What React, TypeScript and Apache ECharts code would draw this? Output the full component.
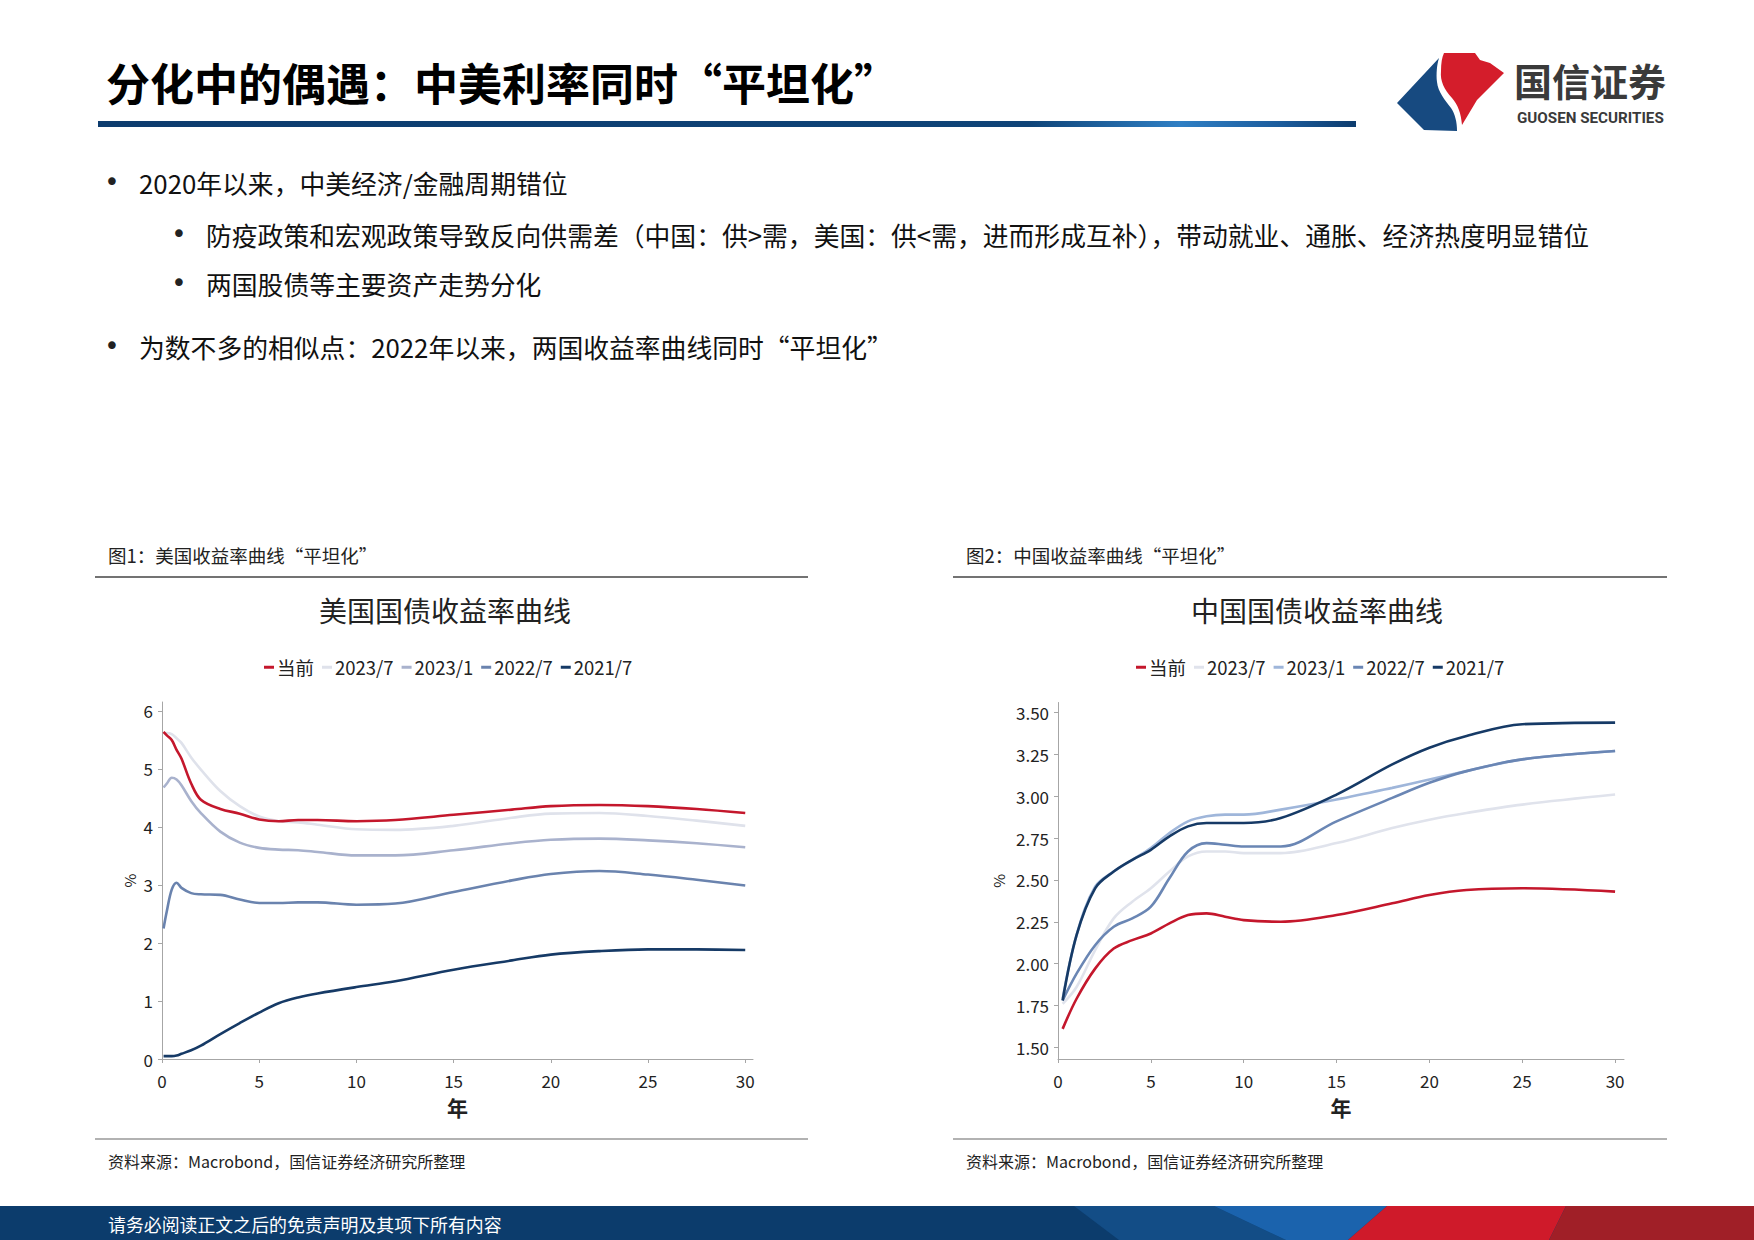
import React, { useEffect, useRef } from "react";
import * as echarts from "echarts";

// ---------- data ----------
const seriesNames = ["当前", "2023/7", "2023/1", "2022/7", "2021/7"];

// US Treasury yield curve (maturity in years, yield in %)
const usTenors = [0.08, 0.25, 0.5, 0.75, 1, 1.5, 2, 3, 4, 5, 6, 7, 8, 10, 12, 15, 18, 20, 22.5, 25, 27.5, 30];
const usCurrent = [5.64, 5.58, 5.5, 5.33, 5.18, 4.75, 4.47, 4.31, 4.23, 4.13, 4.1, 4.12, 4.12, 4.1, 4.12, 4.21, 4.3, 4.36, 4.38, 4.36, 4.31, 4.24];
const us2023_7 = [5.6, 5.62, 5.6, 5.53, 5.45, 5.2, 4.99, 4.62, 4.36, 4.18, 4.1, 4.08, 4.04, 3.96, 3.95, 4.02, 4.16, 4.23, 4.24, 4.19, 4.11, 4.02];
const us2023_1 = [4.68, 4.75, 4.85, 4.82, 4.72, 4.45, 4.24, 3.92, 3.73, 3.64, 3.61, 3.6, 3.57, 3.51, 3.51, 3.6, 3.72, 3.78, 3.8, 3.77, 3.72, 3.65];
const us2022_7 = [2.25, 2.55, 2.92, 3.04, 2.95, 2.86, 2.84, 2.83, 2.75, 2.69, 2.69, 2.7, 2.7, 2.66, 2.68, 2.88, 3.08, 3.19, 3.24, 3.18, 3.09, 2.99];
const us2021_7 = [0.05, 0.05, 0.05, 0.06, 0.09, 0.15, 0.23, 0.43, 0.62, 0.8, 0.96, 1.06, 1.13, 1.24, 1.34, 1.54, 1.7, 1.8, 1.86, 1.89, 1.89, 1.88];

// China government bond yield curve
const cnTenors = [0.25, 1, 2, 3, 4, 5, 6, 7, 8, 9, 10, 12, 15, 18, 20, 22, 25, 30];
const cnCurrent = [1.61, 1.79, 1.97, 2.09, 2.14, 2.18, 2.24, 2.29, 2.3, 2.28, 2.26, 2.25, 2.29, 2.36, 2.41, 2.44, 2.45, 2.43];
const cn2023_7 = [1.76, 1.86, 2.08, 2.27, 2.37, 2.45, 2.55, 2.64, 2.67, 2.67, 2.66, 2.66, 2.72, 2.81, 2.86, 2.9, 2.95, 3.01];
const cn2023_1 = [1.79, 2.17, 2.46, 2.55, 2.62, 2.69, 2.78, 2.85, 2.88, 2.89, 2.89, 2.92, 2.98, 3.05, 3.1, 3.15, 3.22, 3.27];
const cn2022_7 = [1.78, 1.94, 2.11, 2.22, 2.27, 2.34, 2.51, 2.67, 2.72, 2.71, 2.7, 2.7, 2.85, 2.99, 3.08, 3.15, 3.22, 3.27];
const cn2021_7 = [1.78, 2.17, 2.45, 2.55, 2.62, 2.68, 2.76, 2.82, 2.84, 2.84, 2.84, 2.87, 3.01, 3.19, 3.29, 3.36, 3.43, 3.44];

const xTickValues = [0, 5, 10, 15, 20, 25, 30];
const usYTickValues = [0, 1, 2, 3, 4, 5, 6];
const cnYTickValues = [1.5, 1.75, 2.0, 2.25, 2.5, 2.75, 3.0, 3.25, 3.5];

const pageTitle = "分化中的偶遇：中美利率同时“平坦化”";
const bullets = [
  { level: 0, text: "2020年以来，中美经济/金融周期错位" },
  { level: 1, text: "防疫政策和宏观政策导致反向供需差（中国：供>需，美国：供<需，进而形成互补），带动就业、通胀、经济热度明显错位" },
  { level: 1, text: "两国股债等主要资产走势分化" },
  { level: 0, text: "为数不多的相似点：2022年以来，两国收益率曲线同时“平坦化”" },
];
const captions = ["图1：美国收益率曲线“平坦化”", "图2：中国收益率曲线“平坦化”"];
const chartTitles = ["美国国债收益率曲线", "中国国债收益率曲线"];
const sourceText = "资料来源：Macrobond，国信证券经济研究所整理";
const footerText = "请务必阅读正文之后的免责声明及其项下所有内容";

// ---------- styles ----------
const usColors = ["#c4172c", "#dfe2eb", "#a9b2cd", "#6a83ae", "#163a66"];
const cnColors = ["#c4172c", "#e0e3ec", "#9fb6da", "#6a86b4", "#163a66"];
const CJK = "'Noto Sans CJK SC', 'Noto Sans', sans-serif";
const NUM = "'Liberation Sans Narrow', 'Noto Sans CJK SC', sans-serif";

const LOGO_RED =
  "M1444,53 L1475,53 L1480,60 L1490,63 L1504,73 L1477,100 L1462,125 C1461,113 1458,105 1452,98 C1444,89 1440,81 1441,71 C1441,63 1442,57 1444,53 Z";
const LOGO_BLUE =
  "M1439,58 C1437,64 1436,74 1437,82 C1438,92 1445,100 1451,108 C1455,114 1457,122 1457,131 L1424,130 L1397,103 Z";

let registered = false;
function registerShapes() {
  if (registered) return;
  echarts.graphic.registerShape("gsRed", echarts.graphic.extendPath(LOGO_RED, {}));
  echarts.graphic.registerShape("gsBlue", echarts.graphic.extendPath(LOGO_BLUE, {}));
  registered = true;
}

function pairs(xs: number[], ys: number[]) {
  return xs.map((x, i) => [x, ys[i]]);
}

function text(x: number, y: number, t: string, size: number, opts: any = {}) {
  return {
    type: "text",
    x,
    y,
    z: 10,
    style: {
      text: t,
      fontSize: size,
      fontFamily: opts.family || CJK,
      fontWeight: opts.weight || "normal",
      fill: opts.color || "#1a1a1a",
      align: opts.align || "left",
      verticalAlign: "middle",
    },
  };
}

function buildOption() {
  const graphics: any[] = [];
  // header
  graphics.push(text(106, 82, pageTitle, 44, { weight: "bold", color: "#000" }));
  graphics.push({
    type: "rect",
    shape: { x: 98, y: 121, width: 1258, height: 6 },
    style: {
      fill: {
        type: "linear",
        x: 0,
        y: 0,
        x2: 1,
        y2: 0,
        colorStops: [
          { offset: 0, color: "#0d3c6e" },
          { offset: 0.74, color: "#0f4478" },
          { offset: 0.86, color: "#2f7fc4" },
          { offset: 0.94, color: "#1c5c9c" },
          { offset: 1, color: "#0d3c6e" },
        ],
      },
    },
  });
  graphics.push({ type: "gsBlue", x: 0, y: 0, style: { fill: "#174a80" } });
  graphics.push({ type: "gsRed", x: 0, y: 0, style: { fill: "#d41d2b" } });
  graphics.push(text(1514, 79, "国信证券", 38, { color: "#3a3a3a", weight: "bold" }));
  graphics.push(text(1517, 118, "GUOSEN SECURITIES", 15.2, { color: "#3a3a3a", weight: "bold", family: "Roboto, sans-serif" }));

  // bullets
  const ys = [182, 234, 283, 346];
  bullets.forEach((b, i) => {
    const bx = b.level === 0 ? 112 : 179;
    const tx = b.level === 0 ? 139 : 206;
    graphics.push(text(bx, ys[i], "•", 26, { align: "center", color: "#222", family: "'DejaVu Sans', sans-serif" }));
    graphics.push(text(tx, ys[i], b.text, 25.8, { color: "#111" }));
  });

  // chart frames
  const frames = [
    { x0: 95, x1: 808, cap: 108, center: 445 },
    { x0: 953, x1: 1667, cap: 966, center: 1317 },
  ];
  frames.forEach((f, i) => {
    graphics.push(text(f.cap, 555, captions[i], 18.5, { color: "#222" }));
    graphics.push({
      type: "line",
      shape: { x1: f.x0, y1: 577, x2: f.x1, y2: 577 },
      style: { stroke: "#444", lineWidth: 1.5 },
    });
    graphics.push(text(f.center, 610, chartTitles[i], 28, { align: "center", color: "#222" }));
    graphics.push({
      type: "line",
      shape: { x1: f.x0, y1: 1139, x2: f.x1, y2: 1139 },
      style: { stroke: "#666", lineWidth: 1.2 },
    });
    graphics.push(text(f.cap, 1161, sourceText, 16, { color: "#222" }));
  });

  // footer band
  graphics.push({ type: "rect", shape: { x: 0, y: 1206, width: 1754, height: 34 }, style: { fill: "#0c3c6c" } });
  graphics.push({
    type: "polygon",
    shape: { points: [[1074, 1206], [1214, 1206], [1286, 1240], [1119, 1240]] },
    style: { fill: "#134d86" },
  });
  graphics.push({
    type: "polygon",
    shape: { points: [[1214, 1206], [1387, 1206], [1348, 1240], [1286, 1240]] },
    style: { fill: "#1b63ad" },
  });
  graphics.push({
    type: "polygon",
    shape: { points: [[1387, 1206], [1566, 1206], [1549, 1240], [1348, 1240]] },
    style: { fill: "#cf1a2a" },
  });
  graphics.push({
    type: "polygon",
    shape: { points: [[1566, 1206], [1754, 1206], [1754, 1240], [1549, 1240]] },
    style: { fill: "#a01f27" },
  });
  graphics.push(text(108, 1224, footerText, 17.9, { color: "#ffffff" }));

  const axisLine = { show: true, lineStyle: { color: "#a6a6a6", width: 1 } };
  const axisTick = (vals: number[]) => ({
    show: true,
    length: 4,
    customValues: vals,
    lineStyle: { color: "#a6a6a6" },
  });
  const labelStyle = { color: "#222", fontSize: 17, fontFamily: NUM };

  const usData = [usCurrent, us2023_7, us2023_1, us2022_7, us2021_7];
  const cnData = [cnCurrent, cn2023_7, cn2023_1, cn2022_7, cn2021_7];

  const series: any[] = [];
  seriesNames.forEach((name, i) => {
    series.push({
      type: "line",
      name,
      xAxisIndex: 0,
      yAxisIndex: 0,
      data: pairs(usTenors, usData[i]),
      smooth: 0.35,
      showSymbol: false,
      symbol: "none",
      z: i === 0 ? 6 : 2 + i * 0.1,
      lineStyle: { color: usColors[i], width: 2.6 },
      itemStyle: { color: usColors[i] },
    });
  });
  seriesNames.forEach((name, i) => {
    series.push({
      type: "line",
      name,
      xAxisIndex: 1,
      yAxisIndex: 1,
      data: pairs(cnTenors, cnData[i]),
      smooth: 0.35,
      showSymbol: false,
      symbol: "none",
      z: i === 0 ? 6 : 2 + i * 0.1,
      lineStyle: { color: cnColors[i], width: 2.6 },
      itemStyle: { color: cnColors[i] },
    });
  });

  const legendBase = (left: number, colors: string[]) => ({
    left,
    top: 653,
    orient: "horizontal",
    icon: "rect",
    itemWidth: 10,
    itemHeight: 3,
    itemGap: 8,
    textStyle: { color: "#222", fontSize: 18.5, fontFamily: NUM, padding: [0, 0, 0, -2] },
    data: seriesNames.map((n, i) => ({ name: n, itemStyle: { color: colors[i] } })),
    selectedMode: false,
  });

  return {
    animation: false,
    backgroundColor: "#ffffff",
    legend: [legendBase(259, usColors), legendBase(1131, cnColors)],
    grid: [
      { left: 162, top: 702, width: 591, height: 357 },
      { left: 1058, top: 702.5, width: 566, height: 356.5 },
    ],
    xAxis: [
      {
        type: "value",
        gridIndex: 0,
        min: 0,
        max: 30.4,
        name: "年",
        nameLocation: "middle",
        nameGap: 37,
        nameTextStyle: { fontSize: 21, fontWeight: "bold", color: "#222", fontFamily: CJK },
        axisLine,
        axisTick: axisTick(xTickValues),
        splitLine: { show: false },
        axisLabel: { ...labelStyle, margin: 13, customValues: xTickValues },
      },
      {
        type: "value",
        gridIndex: 1,
        min: 0,
        max: 30.48,
        name: "年",
        nameLocation: "middle",
        nameGap: 37,
        nameTextStyle: { fontSize: 21, fontWeight: "bold", color: "#222", fontFamily: CJK },
        axisLine,
        axisTick: axisTick(xTickValues),
        splitLine: { show: false },
        axisLabel: { ...labelStyle, margin: 13, customValues: xTickValues },
      },
    ],
    yAxis: [
      {
        type: "value",
        gridIndex: 0,
        min: 0,
        max: 6.155,
        name: "%",
        nameLocation: "middle",
        nameRotate: 90,
        nameGap: 25,
        nameTextStyle: { fontSize: 15, color: "#222", fontFamily: NUM },
        axisLine,
        axisTick: axisTick(usYTickValues),
        splitLine: { show: false },
        axisLabel: {
          ...labelStyle,
          margin: 9,
          customValues: usYTickValues,
          formatter: (v: number) => (usYTickValues.includes(v) ? String(v) : ""),
        },
      },
      {
        type: "value",
        gridIndex: 1,
        min: 1.43,
        max: 3.56,
        name: "%",
        nameLocation: "middle",
        nameRotate: 90,
        nameGap: 52,
        nameTextStyle: { fontSize: 15, color: "#222", fontFamily: NUM },
        axisLine,
        axisTick: axisTick(cnYTickValues),
        splitLine: { show: false },
        axisLabel: {
          ...labelStyle,
          margin: 9,
          customValues: cnYTickValues,
          formatter: (v: number) => v.toFixed(2),
        },
      },
    ],
    graphic: graphics,
    series,
  };
}

export default function App() {
  const ref = useRef<HTMLDivElement>(null);
  useEffect(() => {
    if (!ref.current) return;
    registerShapes();
    const chart = echarts.init(ref.current, undefined, { renderer: "svg" });
    chart.setOption(buildOption() as any);
    return () => chart.dispose();
  }, []);
  return (
    <div
      ref={ref}
      style={{ position: "absolute", left: 0, top: 0, width: 1754, height: 1240, background: "#fff" }}
    />
  );
}
